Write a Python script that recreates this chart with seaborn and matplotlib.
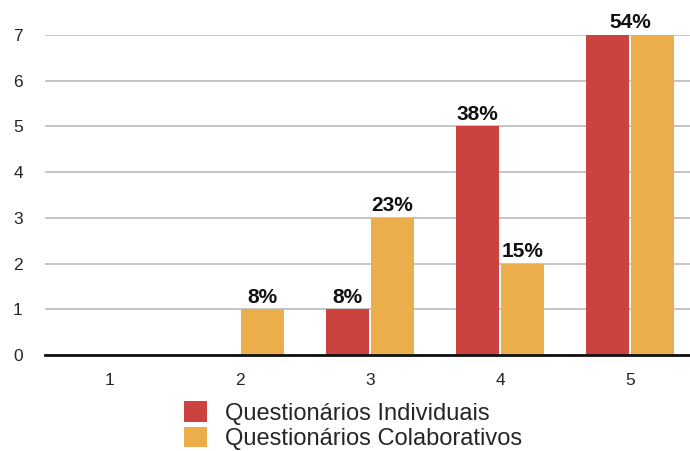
import matplotlib
matplotlib.use("Agg")
import matplotlib.pyplot as plt
from matplotlib.patches import Patch
import seaborn as sns
import pandas as pd

categories = ["1", "2", "3", "4", "5"]
individuais = [0, 0, 1, 5, 7]
colaborativos = [0, 1, 3, 2, 7]
series_names = ["Questionários Individuais", "Questionários Colaborativos"]
colors = ["#CB423F", "#ECAE4B"]
y_ticks = [0, 1, 2, 3, 4, 5, 6, 7]

df = pd.DataFrame({
    "cat": categories * 2,
    "val": individuais + colaborativos,
    "serie": [series_names[0]] * len(categories) + [series_names[1]] * len(categories),
})

sns.set_style("white")
plt.rcParams["font.family"] = ["Liberation Sans", "DejaVu Sans"]

fig = plt.figure(figsize=(6.9, 4.51), dpi=100)
ax = fig.add_axes([45 / 690, 1 - 355 / 451, 650 / 690, 320 / 451])

sns.barplot(data=df, x="cat", y="val", hue="serie", order=categories,
            hue_order=series_names, palette=colors, width=0.69, gap=0.045,
            saturation=1, ax=ax, legend=False, edgecolor="none")

ax.set_xlim(-0.5, 4.5)
ax.set_ylim(0, 7)
ax.set_yticks(y_ticks)
ax.set_yticklabels([str(t) for t in y_ticks], fontsize=12.5)
ax.tick_params(axis="y", pad=16, length=0)
ax.tick_params(axis="x", length=0, pad=13, labelsize=12.5)
ax.set_xlabel("")
ax.set_ylabel("")
ax.yaxis.grid(True, color="#BBBBBB", linewidth=1.2)
ax.set_axisbelow(True)
for s in ["top", "right", "left"]:
    ax.spines[s].set_visible(False)
ax.spines["bottom"].set_color("#111111")
ax.spines["bottom"].set_linewidth(2)
ax.spines["bottom"].set_zorder(5)

# percentage labels: share of each series' total
tot_i = sum(individuais)
tot_c = sum(colaborativos)
containers = ax.containers
for i, (vi, vc) in enumerate(zip(individuais, colaborativos)):
    pi = round(100 * vi / tot_i)
    pc = round(100 * vc / tot_c)
    bi = containers[0][i]
    bc = containers[1][i]
    xi = bi.get_x() + bi.get_width() / 2
    xc = bc.get_x() + bc.get_width() / 2
    kw = dict(ha="center", va="bottom", fontsize=15, fontweight="bold",
              color="#111111")
    if vi == vc and vi > 0 and pi == pc:
        ax.annotate(f"{pi}%", ((xi + xc) / 2, vi), xytext=(0, 2),
                    textcoords="offset points", **kw)
        continue
    if vi > 0:
        ax.annotate(f"{pi}%", (xi, vi), xytext=(0, 2),
                    textcoords="offset points", **kw)
    if vc > 0:
        ax.annotate(f"{pc}%", (xc, vc), xytext=(0, 2),
                    textcoords="offset points", **kw)

handles = [Patch(facecolor=c, edgecolor="none") for c in colors]
fig.legend(handles, series_names, loc="upper left",
           bbox_to_anchor=(175 / 690, 1 - 392 / 451), frameon=False,
           fontsize=17, handlelength=0.95, handleheight=0.95,
           handletextpad=0.75, labelspacing=0.08, borderaxespad=0)

fig.savefig("out.png", dpi=100)
